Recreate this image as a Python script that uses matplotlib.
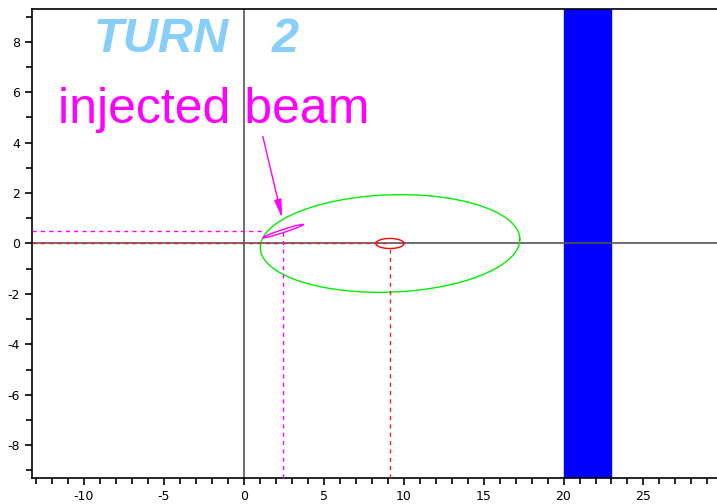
import numpy as np
import matplotlib
matplotlib.use('Agg')
import matplotlib.pyplot as plt

# ---------------------------
# values
# ---------------------------
# acceptance ellipse (green): centre, half widths, small tilt term
green_centre = [9.15, 0.0]
green_axes = [8.12, 1.93]
green_tilt = 0.16

# circulating beam (red)
red_centre = [9.14, 0.0]
red_axes = [0.88, 0.2]

# injected beam (magenta), long and thin, tilted
mag_centre = [2.45, 0.49]
mag_long = [1.26, 0.26]
mag_short = [-0.02, 0.06]

# septum / blue band
septum = [20.0, 23.0]

xlim = [-13.25, 29.6]
ylim = [-9.3, 9.3]

plt.rcParams['font.family'] = ['Liberation Sans', 'DejaVu Sans']
plt.rcParams['axes.unicode_minus'] = False

fig = plt.figure(figsize=(7.17, 5.04), dpi=100)
ax = fig.add_axes([0.0446, 0.0516, 0.9554, 0.9306])

t = np.linspace(0, 2 * np.pi, 400)

# blue band over full height
ax.axvspan(septum[0], septum[1], color='#0000ff', zorder=1)

# axis lines through origin
ax.axhline(0, color='#555555', lw=1.2, zorder=2)
ax.axvline(0, color='#555555', lw=1.2, zorder=2)

# green ellipse
gx = green_centre[0] + green_axes[0] * np.cos(t)
gy = green_centre[1] + green_axes[1] * np.sin(t) + green_tilt * np.cos(t)
ax.plot(gx, gy, color='#00ee00', lw=1, zorder=3)

# red ellipse
rx = red_centre[0] + red_axes[0] * np.cos(t)
ry = red_centre[1] + red_axes[1] * np.sin(t)
ax.plot(rx, ry, color='#ff0000', lw=1, zorder=3)

# magenta ellipse
mx = mag_centre[0] + mag_long[0] * np.cos(t) + mag_short[0] * np.sin(t)
my = mag_centre[1] + mag_long[1] * np.cos(t) + mag_short[1] * np.sin(t)
ax.plot(mx, my, color='#ff00ff', lw=1, zorder=3)

# dashed guide lines
dash = (0, (3, 3))
ax.plot([xlim[0], red_centre[0]], [0, 0], color='#ee2222', lw=1, ls=dash, zorder=3)
ax.plot([red_centre[0], red_centre[0]], [ylim[0], red_centre[1] - red_axes[1]],
        color='#ee2222', lw=1, ls=dash, zorder=3)
ax.plot([xlim[0], mag_centre[0] - 1.15], [mag_centre[1], mag_centre[1]],
        color='#ff00ff', lw=1, ls=dash, zorder=3)
ax.plot([mag_centre[0], mag_centre[0]], [ylim[0], mag_centre[1]],
        color='#ff00ff', lw=1, ls=dash, zorder=3)

# labels
ax.text(-5.2, 8.08, 'TURN', color='#87cefa', fontsize=35, fontweight='bold',
        fontstyle='italic', ha='center', va='center', zorder=4)
ax.text(2.6, 8.08, '2', color='#87cefa', fontsize=35, fontweight='bold',
        fontstyle='italic', ha='center', va='center', zorder=4)
ax.text(-11.6, 5.3, 'injected beam', color='#ff00ff', fontsize=36,
        ha='left', va='center', zorder=4)
ax.annotate('', xy=(2.44, 0.9), xytext=(1.15, 4.35),
            arrowprops=dict(arrowstyle='-|>,head_length=1.1,head_width=0.22',
                            color='#ff00ff', lw=1), zorder=4)

ax.set_xlim(xlim)
ax.set_ylim(ylim)
ax.set_xticks([-10, -5, 0, 5, 10, 15, 20, 25])
ax.set_xticks(np.arange(-13, 30, 1), minor=True)
ax.set_yticks([-8, -6, -4, -2, 0, 2, 4, 6, 8])
ax.set_yticks(np.arange(-9, 10, 1), minor=True)
ax.tick_params(which='both', direction='out', width=1.2, labelsize=9)
ax.tick_params(which='major', length=5)
ax.tick_params(which='minor', length=4)
for lab in ax.get_xticklabels() + ax.get_yticklabels():
    lab.set_fontfamily('DejaVu Sans')
ax.spines['right'].set_visible(False)
for s in ['left', 'bottom', 'top']:
    ax.spines[s].set_linewidth(1.2)

fig.savefig('out.png', dpi=100)
